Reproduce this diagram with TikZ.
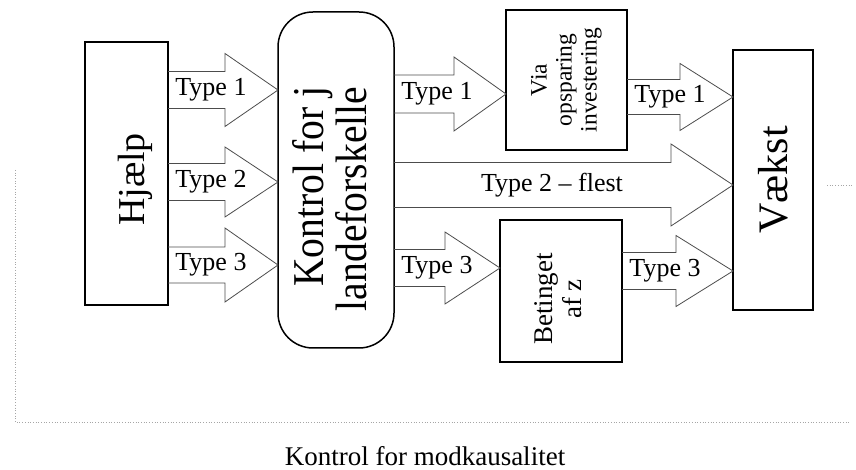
\documentclass[tikz,border=0pt]{standalone}
\usepackage{fontspec}
\setmainfont{Liberation Serif}
\usepackage{graphicx}
\usetikzlibrary{calc}
\tikzset{
  box/.style={draw=black, line width=2pt, inner sep=0pt, outer sep=0pt, align=center},
  rbox/.style={box, line width=1.5pt, rounded corners=35pt},
  arr/.style={draw=black!70, line width=0.8pt, line join=miter},
  lbl/.style={inner sep=0pt, font=\fontsize{26}{28}\selectfont},
  faint/.style={draw=black!35, dotted, line width=0.7pt}
}
% #1 from node, #2 to node, #3 centre y, #4 shaft half, #5 head half, #6 head length, #7 label, #8 label name
\newcommand\blockarrow[8]{%
  \draw[arr] let \p1=(#1.east), \p2=(#2.west) in
    (\x1,#3pt+#4pt) -- (\x2-#6pt,#3pt+#4pt) -- (\x2-#6pt,#3pt+#5pt) -- (\x2,#3pt)
    -- (\x2-#6pt,#3pt-#5pt) -- (\x2-#6pt,#3pt-#4pt) -- (\x1,#3pt-#4pt)
    (\x1+7pt,#3pt) node[lbl,anchor=west] (#8) {#7};
}
\begin{document}
\begin{tikzpicture}[x=1pt,y=1pt]
\useasboundingbox (0,0) rectangle (856,470);
% faint frame
\draw[faint] (15,300) -- (15,48) -- (850,48);
\draw[faint] (827,285) -- (853,285);
% boxes
\node[box, minimum width=83pt, minimum height=263pt, font=\fontsize{38}{40}\selectfont] (hj) at (126.5,296.5)
  {\rotatebox{90}{\begin{tabular}{@{}c@{\hspace{12pt}}}\raisebox{-10pt}[\height][\depth]{Hjælp}\end{tabular}}};
\node[rbox, minimum width=116pt, minimum height=336pt, font=\fontsize{44}{42}\selectfont] (ko) at (336,290)
  {\rotatebox{90}{\scalebox{0.9}[1]{\begin{tabular}{@{}r@{\hspace{42pt}}}Kontrol for j\\landeforskelle\end{tabular}}}};
\node[box, line width=1.8pt, minimum width=121pt, minimum height=140pt, font=\fontsize{23.5}{25}\selectfont] (via) at (566.5,390)
  {\rotatebox{90}{\begin{tabular}{@{}c@{}}Via\\opsparing\\investering\end{tabular}}};
\node[box, line width=1.8pt, minimum width=122pt, minimum height=142pt, font=\fontsize{27}{29}\selectfont] (bet) at (561,179)
  {\rotatebox{90}{\begin{tabular}{@{}c@{\hspace{16pt}}}Betinget\\af z\end{tabular}}};
\node[box, minimum width=80pt, minimum height=260pt, font=\fontsize{42}{44}\selectfont] (vk) at (773,290)
  {\rotatebox{90}{Vækst}};
% block arrows
\blockarrow{hj}{ko}{380}{18.5}{36.5}{53}{Type 1}{l1}
\blockarrow{hj}{ko}{288}{18.5}{35}{53}{Type 2}{l2}
\blockarrow{hj}{ko}{205}{18}{37}{53}{Type 3}{l3}
\blockarrow{ko}{via}{376}{19}{37}{52}{Type 1}{m1}
\blockarrow{ko}{bet}{202}{18.5}{36}{55}{Type 3}{m3}
\blockarrow{via}{vk}{373}{17.5}{33.5}{53}{Type 1}{r1}
\blockarrow{bet}{vk}{199}{18.5}{35.5}{57}{Type 3}{r3}
\draw[arr] let \p1=(ko.east), \p2=(vk.west) in
  (\x1,307.5) -- (\x2-62pt,307.5) -- (\x2-62pt,326) -- (\x2,285)
  -- (\x2-62pt,244) -- (\x2-62pt,262.5) -- (\x1,262.5)
  (552,285) node[lbl] (m2) {Type 2 – flest};
% caption
\node[font=\fontsize{27}{29}\selectfont, inner sep=0pt] (cap) at (425,14) {Kontrol for modkausalitet};
\end{tikzpicture}
\end{document}
